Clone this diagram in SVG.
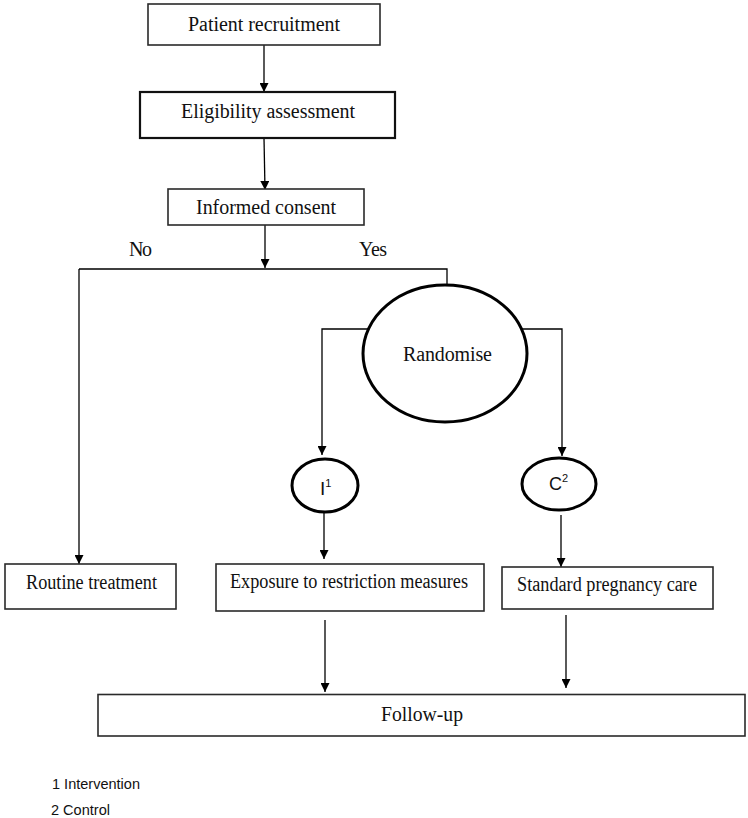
<svg xmlns="http://www.w3.org/2000/svg" width="748" height="818" viewBox="0 0 748 818">
<style>
  .box { fill: #fff; stroke: #2a2a2a; stroke-width: 1.6; }
  .box-bold { fill: #fff; stroke: #111; stroke-width: 2.2; }
  .oval { fill: #fff; stroke: #000; stroke-width: 3; }
  .lbl { font-family: "Liberation Serif", "Times New Roman", serif; font-size: 20px; fill: #111; text-anchor: middle; }
  .sans { font-family: "Liberation Sans", Arial, sans-serif; fill: #111; }
  .conn { fill: none; stroke: #000; stroke-width: 1.3; }
</style>
<defs>
  <marker id="arrow" viewBox="0 0 10 10" markerWidth="10" markerHeight="9" refX="10" refY="5" orient="auto" markerUnits="userSpaceOnUse">
    <path d="M0,0 L10,5 L0,10 z" fill="#000"/>
  </marker>
</defs>
<rect width="748" height="818" fill="#fff"/>

<g id="connectors">
  <line class="conn" x1="264" y1="45" x2="264" y2="92" marker-end="url(#arrow)"/>
  <line class="conn" x1="264" y1="138" x2="265" y2="190" marker-end="url(#arrow)"/>
  <line class="conn" x1="265" y1="225" x2="265" y2="268" marker-end="url(#arrow)"/>
  <polyline class="conn" points="447,285 447,269 79,269"/>
  <line class="conn" x1="79" y1="269" x2="79" y2="564" marker-end="url(#arrow)"/>
  <polyline class="conn" points="368,329 322,329 322,455" marker-end="url(#arrow)"/>
  <polyline class="conn" points="522,329 562,329 562,456" marker-end="url(#arrow)"/>
  <line class="conn" x1="324" y1="512" x2="324" y2="559" marker-end="url(#arrow)"/>
  <line class="conn" x1="561" y1="515" x2="561" y2="567" marker-end="url(#arrow)"/>
  <line class="conn" x1="325" y1="620" x2="325" y2="692" marker-end="url(#arrow)"/>
  <line class="conn" x1="566" y1="615" x2="566" y2="688" marker-end="url(#arrow)"/>
</g>

<g id="labels">
  <text class="lbl" x="129" y="256" text-anchor="start" style="text-anchor:start" textLength="23">No</text>
  <text class="lbl" x="359" y="256" style="text-anchor:start" textLength="28">Yes</text>
</g>

<g id="patient-recruitment">
  <rect class="box" x="148" y="4" width="232" height="41"/>
  <text class="lbl" x="264" y="31" textLength="152">Patient recruitment</text>
</g>

<g id="eligibility-assessment">
  <rect class="box-bold" x="140" y="92" width="255" height="46"/>
  <text class="lbl" x="268" y="118" textLength="174">Eligibility assessment</text>
</g>

<g id="informed-consent">
  <rect class="box" x="168" y="189" width="196" height="36"/>
  <text class="lbl" x="266" y="214" textLength="140">Informed consent</text>
</g>

<g id="randomise">
  <ellipse class="oval" cx="445" cy="353.5" rx="82" ry="68.5"/>
  <text class="lbl" x="447.5" y="361" textLength="89">Randomise</text>
</g>

<g id="intervention">
  <ellipse class="oval" cx="325" cy="485.5" rx="33" ry="26.5"/>
  <text class="sans" x="320" y="495" font-size="19">I<tspan font-size="11" dy="-8">1</tspan></text>
</g>

<g id="control">
  <ellipse class="oval" cx="559" cy="484" rx="37" ry="26"/>
  <text class="sans" x="549" y="490" font-size="18">C<tspan font-size="11" dy="-8">2</tspan></text>
</g>

<g id="routine-treatment">
  <rect class="box" x="5" y="564" width="171" height="45"/>
  <text class="lbl" x="91.5" y="589" textLength="131" lengthAdjust="spacingAndGlyphs">Routine treatment</text>
</g>

<g id="exposure">
  <rect class="box" x="216" y="564" width="268" height="47"/>
  <text class="lbl" x="349" y="588" textLength="238" lengthAdjust="spacingAndGlyphs">Exposure to restriction measures</text>
</g>

<g id="standard-care">
  <rect class="box" x="502" y="567" width="211" height="42"/>
  <text class="lbl" x="607" y="591" textLength="180" lengthAdjust="spacingAndGlyphs">Standard pregnancy care</text>
</g>

<g id="follow-up">
  <rect class="box" x="98" y="694.5" width="647" height="41.5"/>
  <text class="lbl" x="422" y="721" textLength="82" lengthAdjust="spacingAndGlyphs">Follow-up</text>
</g>

<g id="footnotes">
  <text class="sans" x="52" y="789" font-size="15" textLength="88" lengthAdjust="spacingAndGlyphs">1 Intervention</text>
  <text class="sans" x="51" y="815" font-size="15" textLength="59" lengthAdjust="spacingAndGlyphs">2 Control</text>
</g>
</svg>
